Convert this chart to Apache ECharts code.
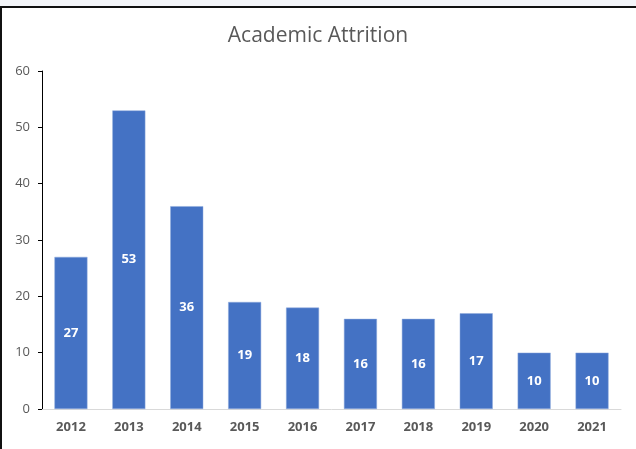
<!DOCTYPE html>
<html>
<head>
<meta charset="utf-8">
<script src="https://cdn.jsdelivr.net/npm/echarts@6/dist/echarts.min.js"></script>
<style>
html,body{margin:0;padding:0;background:#fff;}
#top{position:absolute;left:0;top:0;width:636px;height:6px;background:#f3f5f9;}
#line{position:absolute;left:0;top:6px;width:636px;height:2px;background:#111;}
#left{position:absolute;left:0;top:6px;width:2px;height:443px;background:#111;}
#c{position:absolute;left:0;top:0;width:636px;height:449px;}
</style>
</head>
<body>
<div id="c"></div>
<div id="top"></div>
<div id="line"></div>
<div id="left"></div>
<script>
const categories = ['2012','2013','2014','2015','2016','2017','2018','2019','2020','2021'];
const attrition = [27, 53, 36, 19, 18, 16, 16, 17, 10, 10];
const yTicks = [0, 10, 20, 30, 40, 50, 60];

const chart = echarts.init(document.getElementById('c'), null, {renderer:'canvas'});
chart.setOption({
  animation: false,
  title: {
    text: 'Academic Attrition',
    left: 'center',
    top: 21,
    textStyle: {color:'#595959', fontSize: 21, fontWeight: 'normal', fontFamily: 'Open Sans'}
  },
  grid: {left: 42, right: 15, top: 71, bottom: 40, containLabel: false},
  xAxis: {
    type: 'category',
    data: categories,
    axisLine: {show: true, lineStyle: {color: '#d9d9d9', width: 1}},
    axisTick: {show: false},
    axisLabel: {color: '#595959', fontSize: 13, fontWeight: 'bold', fontFamily: 'Open Sans', margin: 12}
  },
  yAxis: {
    type: 'value',
    min: yTicks[0],
    max: yTicks[yTicks.length-1],
    interval: 10,
    axisLine: {show: true, lineStyle: {color: '#000', width: 1}},
    axisTick: {show: true, inside: false, length: 4, lineStyle: {color: '#000'}},
    splitLine: {show: false},
    axisLabel: {color: '#595959', fontSize: 13, fontFamily: 'Open Sans', margin: 12}
  },
  series: [{
    type: 'bar',
    data: attrition,
    barWidth: '57%',
    itemStyle: {color: '#4472C4', borderColor: '#8faadc', borderWidth: 0.5},
    label: {
      show: true,
      position: 'inside',
      color: '#fff',
      fontWeight: 'bold',
      fontSize: 13,
      fontFamily: 'Open Sans'
    }
  }]
});
</script>
</body>
</html>
